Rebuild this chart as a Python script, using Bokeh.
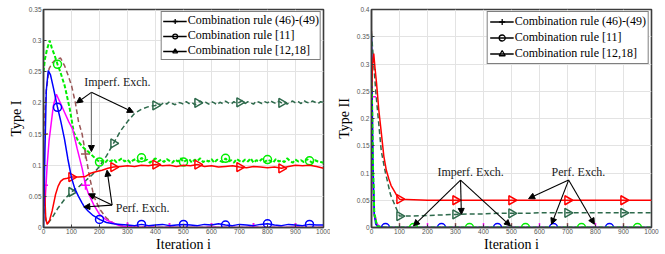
import numpy as np
from bokeh.plotting import figure
from bokeh.layouts import row
from bokeh.models import (Range1d, FixedTicker, CustomJSTickFormatter, Label, Arrow,
                          NormalHead, Legend, LegendItem)
from bokeh.embed import file_html
from bokeh.resources import INLINE

# ---------------- data: Type I (left panel) ----------------
t1_blue_x = [0, 5, 10, 17, 25, 35, 50, 62, 75, 87, 100, 112, 125, 137, 146, 160, 175, 190, 200, 225, 250, 275] + list(range(300, 1001, 25))
t1_blue_y = [0.0, 0.12, 0.22, 0.252, 0.245, 0.225, 0.193, 0.17, 0.142, 0.11, 0.08, 0.062, 0.05, 0.04, 0.033, 0.026, 0.02, 0.016, 0.013, 0.008, 0.006, 0.005,
             0.004, 0.003, 0.005, 0.003, 0.004, 0.005, 0.003, 0.004, 0.005, 0.004,
             0.003, 0.005, 0.004, 0.006, 0.004, 0.003, 0.005, 0.004, 0.003, 0.005,
             0.006, 0.004, 0.003, 0.005, 0.004, 0.003, 0.005, 0.004, 0.004]

t1_mag_x = [0, 5, 13, 20, 25, 35, 46, 60, 75, 90, 104, 120, 138, 150, 160, 180, 200, 225, 245, 270, 300, 350, 400, 450, 500, 600, 700, 750, 800, 900, 1000]
t1_mag_y = [0.068, 0.035, 0.1, 0.14, 0.158, 0.195, 0.214, 0.2, 0.185, 0.17, 0.158, 0.127, 0.095, 0.068, 0.055, 0.036, 0.021, 0.012, 0.008, 0.003, 0.001, 0.0005, 0.0003, 0.0002, 0.0, 0.0, 0.0, 0.0, 0.0, 0.0, 0.0]

t1_brown_x = [0, 10, 20, 31, 45, 61, 75, 89, 100, 114, 125, 138, 150, 165, 180, 200, 225, 250, 275, 300, 350, 400, 450, 500, 600, 700, 750, 800, 900, 1000]
t1_brown_y = [0.15, 0.22, 0.255, 0.264, 0.27, 0.272, 0.26, 0.243, 0.228, 0.2, 0.17, 0.15, 0.118, 0.08, 0.05, 0.03, 0.015, 0.007, 0.003, 0.001, 0.0005, 0.0, 0.0, 0.0, 0.0, 0.0, 0.0, 0.0, 0.0, 0.0]

t1_green_x = [0, 5, 12, 22, 30, 40, 50, 60, 76, 94, 108, 126, 145, 162, 180] + list(range(200, 1001, 10))
t1_green_y = [0.25, 0.27, 0.285, 0.30, 0.288, 0.276, 0.262, 0.25, 0.227, 0.19, 0.153, 0.137, 0.127, 0.121, 0.113,
              0.105, 0.108, 0.104, 0.109, 0.106, 0.110, 0.105, 0.108, 0.111, 0.106,
              0.109, 0.104, 0.108, 0.110, 0.105, 0.112, 0.107, 0.109, 0.104, 0.108,
              0.111, 0.106, 0.109, 0.105, 0.110, 0.107, 0.104, 0.109, 0.106, 0.111,
              0.105, 0.108, 0.110, 0.104, 0.109, 0.107, 0.111, 0.105, 0.108, 0.106,
              0.110, 0.104, 0.109, 0.107, 0.105, 0.111, 0.106, 0.108, 0.104, 0.110,
              0.107, 0.105, 0.109, 0.106, 0.111, 0.104, 0.108, 0.106, 0.110, 0.105,
              0.109, 0.107, 0.104, 0.110, 0.106, 0.108, 0.105, 0.111, 0.107, 0.104,
              0.109, 0.106, 0.108, 0.105, 0.110, 0.107, 0.104, 0.108, 0.106, 0.105,
              0.104]

t1_red_x = [0, 4, 8, 13, 22, 31, 43, 52, 61, 72, 85, 100, 125, 150, 168, 190, 209, 230] + list(range(250, 1001, 25))
t1_red_y = [0.14, 0.06, 0.015, 0.005, 0.012, 0.027, 0.053, 0.066, 0.074, 0.078, 0.079, 0.081, 0.081, 0.082, 0.087, 0.09, 0.092, 0.095,
            0.097, 0.098, 0.099, 0.098, 0.100, 0.099, 0.101, 0.099, 0.100, 0.098,
            0.100, 0.099, 0.101, 0.098, 0.099, 0.097, 0.098, 0.099, 0.097, 0.096,
            0.098, 0.097, 0.096, 0.097, 0.095, 0.098, 0.100, 0.099, 0.100, 0.098,
            0.095]

t1_dkg_x = [0, 4, 8, 15, 30, 50, 75, 100, 125, 150, 175, 200, 225, 250, 275, 300, 325, 350, 375] + list(range(400, 1001, 10))
t1_dkg_y = [0.12, 0.04, 0.012, 0.006, 0.015, 0.03, 0.045, 0.057, 0.065, 0.075, 0.085, 0.098, 0.115, 0.135, 0.155, 0.17, 0.183, 0.19, 0.194,
            0.196, 0.199, 0.197, 0.201, 0.198, 0.202, 0.199, 0.197, 0.201, 0.200,
            0.198, 0.202, 0.199, 0.201, 0.197, 0.200, 0.203, 0.199, 0.201, 0.198,
            0.202, 0.200, 0.197, 0.201, 0.199, 0.203, 0.200, 0.198, 0.202, 0.199,
            0.201, 0.204, 0.199, 0.202, 0.200, 0.198, 0.203, 0.201, 0.199, 0.202,
            0.200, 0.204, 0.201, 0.199, 0.203, 0.200, 0.202, 0.198, 0.201, 0.203,
            0.200, 0.202, 0.199, 0.204, 0.201, 0.200, 0.203, 0.201, 0.199, 0.202,
            0.201]

t1_marks_plus = [0, 150, 300, 450, 600, 750, 900]
t1_marks_circ = [50, 200, 350, 500, 650, 800, 950]
t1_marks_tri = [100, 250, 400, 550, 700, 850]

# ---------------- data: Type II (right panel) ----------------
tail_x = list(range(100, 1001, 50))
t2_red_x = [0, 4, 8, 13, 18, 26, 35, 44, 53, 62, 70, 80, 90] + tail_x
t2_red_y = [0.25, 0.30, 0.319, 0.29, 0.265, 0.216, 0.174, 0.131, 0.105, 0.089, 0.077, 0.068, 0.059,
            0.052, 0.051, 0.050, 0.050, 0.050, 0.050, 0.050, 0.050, 0.050, 0.050,
            0.050, 0.050, 0.050, 0.050, 0.050, 0.050, 0.050, 0.050, 0.050]
t2_dkg_x = [0, 8, 16, 26, 35, 50, 68, 86] + tail_x
t2_dkg_y = [0.356, 0.30, 0.245, 0.19, 0.14, 0.10, 0.06, 0.038,
            0.021, 0.021, 0.022, 0.023, 0.024, 0.025, 0.025, 0.026, 0.026, 0.026,
            0.027, 0.027, 0.027, 0.027, 0.027, 0.027, 0.027, 0.027, 0.027]
t2_blue_x = [0, 5, 10, 15, 25, 50, 250, 450, 650, 850, 1000]
t2_blue_y = [0.35, 0.12, 0.025, 0.006, 0.001, 0.0, 0.0, 0.0, 0.0, 0.0, 0.0]
t2_mag_x = [0, 5, 10, 20, 30, 50, 200, 400, 600, 800, 1000]
t2_mag_y = [0.24, 0.08, 0.02, 0.006, 0.002, 0.0005, 0.0, 0.0, 0.0, 0.0, 0.0]
t2_brown_x = [0, 5, 10, 20, 40, 100, 300, 500, 700, 900, 1000]
t2_brown_y = [0.36, 0.12, 0.03, 0.004, 0.0, 0.0, 0.0, 0.0, 0.0, 0.0, 0.0]
t2_green_x = [0, 5, 10, 20, 40, 150, 350, 550, 750, 950, 1000]
t2_green_y = [0.30, 0.12, 0.025, 0.003, 0.0, 0.0, 0.0, 0.0, 0.0, 0.0, 0.0]

t2_marks_tri = [100, 300, 500, 700, 900]
t2_marks_blue = [50, 250, 450, 650, 850]
t2_marks_mag = [0, 200, 400, 600, 800]
t2_marks_brown = [100, 300, 500, 700, 900]
t2_marks_green = [150, 350, 550, 750, 950]

legend_labels = ["Combination rule (46)-(49)", "Combination rule [11]", "Combination rule [12,18]"]
x_ticks = [0, 100, 200, 300, 400, 500, 600, 700, 800, 900, 1000]
y1_ticks = [0, 0.05, 0.1, 0.15, 0.2, 0.25, 0.3, 0.35]
y2_ticks = [0, 0.05, 0.1, 0.15, 0.2, 0.25, 0.3, 0.35, 0.4]

# annotations: (text, x, y) and arrows (x_start, y_start, x_end, y_end)
t1_texts = [("Imperf. Exch.", 264, 0.233), ("Perf. Exch.", 354, 0.032)]
t1_arrows = [(171, 0.217, 118, 0.200), (171, 0.217, 171, 0.122), (171, 0.217, 321, 0.185),
             (245, 0.036, 161, 0.054), (245, 0.036, 144, 0.033), (245, 0.036, 227, 0.092)]
t1_arrow_colors = ["black", "#6e6e6e", "black", "black", "black", "black"]
t2_texts = [("Imperf. Exch.", 354, 0.102), ("Perf. Exch.", 739, 0.102)]
t2_arrows = [(318, 0.087, 150, 0.003), (318, 0.087, 321, 0.024), (318, 0.087, 496, 0.003),
             (704, 0.087, 561, 0.053), (704, 0.087, 643, 0.006), (704, 0.087, 796, 0.006)]

BLUE, MAG, RED, GRN, DKG, BRN = "#0000ff", "#ff00ff", "#ff0000", "#00ee00", "#2e6a4c", "#9a5656"
SERIF = "'Liberation Serif', 'DejaVu Serif', serif"


def pick(xs, ys, marks):
    return [ys[xs.index(m)] for m in marks]


def make_fig(width, left, right, bottom, ymax, yticks, ylabel):
    p = figure(width=width, height=254, x_range=Range1d(0, 1000), y_range=Range1d(0, ymax),
               output_backend="svg", toolbar_location=None,
               min_border_left=left, min_border_right=right, min_border_top=9, min_border_bottom=bottom)
    p.background_fill_color = "white"
    p.border_fill_color = "white"
    p.outline_line_color = "#3c3c3c"
    p.outline_line_width = 1.6
    p.xaxis.ticker = FixedTicker(ticks=x_ticks)
    p.yaxis.ticker = FixedTicker(ticks=yticks)
    p.yaxis.formatter = CustomJSTickFormatter(code="return Number(tick.toFixed(2)).toString();")
    for ax in (p.xaxis, p.yaxis):
        ax.axis_line_color = "#3c3c3c"
        ax.axis_line_width = 1.4
        ax.major_tick_in = 3
        ax.major_tick_out = 0
        ax.major_tick_line_color = "#3c3c3c"
        ax.minor_tick_line_color = None
        ax.major_label_text_font = "Liberation Sans"
        ax.major_label_text_font_size = "6.5px"
        ax.major_label_text_color = "#555555"
        ax.major_label_standoff = 2
        ax.axis_label_text_font = SERIF
        ax.axis_label_text_font_size = "14px"
        ax.axis_label_text_font_style = "normal"
        ax.axis_label_text_color = "black"
    p.yaxis.axis_label = ylabel
    p.yaxis.axis_label_standoff = 2
    p.xaxis.axis_label = "Iteration i"
    p.xaxis.axis_label_standoff = 0
    p.xaxis.major_label_standoff = 1
    p.xgrid.grid_line_color = "#e3e3e3"
    p.ygrid.grid_line_color = "#e3e3e3"
    return p


def series(p, xs, ys, color, dash, marker, marks, width=1.5, size=8, angle=0.0):
    p.line(xs, ys, line_color=color, line_width=width, line_dash=dash)
    p.scatter(marks, pick(xs, ys, marks), marker=marker, size=size, angle=angle,
              line_color=color, fill_color=None, line_width=1.5)


def add_legend(p, label_h, spacing, padding):
    items = []
    for lab, mk, ang in zip(legend_labels, ["cross", "circle", "triangle"], [0.0, 0.0, -np.pi / 2]):
        # single off-range point: only used to draw the legend glyph
        lr = p.line([-500, -400], [-1, -1], line_color="black", line_width=1.3)
        sr = p.scatter(x=[-500], y=[-1], angle=[ang], marker=mk, size=8 if mk != "circle" else 7,
                       line_color="black", fill_color=None, line_width=1.3)
        items.append(LegendItem(label=lab, renderers=[lr, sr], index=0))
    lg = Legend(items=items, location="top_right", margin=2, padding=padding, spacing=spacing,
                label_height=label_h, glyph_height=label_h, glyph_width=24, label_standoff=1,
                label_text_font=SERIF, label_text_font_size="12px", label_text_color="black",
                border_line_color="black", border_line_width=1.5, background_fill_color="white",
                background_fill_alpha=1.0)
    p.add_layout(lg, "center")


def add_notes(p, texts, arrows, colors=None):
    for i, (x0, y0, x1, y1) in enumerate(arrows):
        c = colors[i] if colors else "black"
        p.add_layout(Arrow(x_start=x0, y_start=y0, x_end=x1, y_end=y1, line_color=c, line_width=1.1,
                           end=NormalHead(size=6, fill_color="black", line_color="black", line_width=1)))
    for t, x, y in texts:
        p.add_layout(Label(x=x, y=y, text=t, text_align="center", text_baseline="middle",
                           text_font=SERIF, text_font_size="12px", text_color="#1a1a1a"))


# ---------------- left panel ----------------
p1 = make_fig(330, 43, 7, 24, 0.35, y1_ticks, "Type I")
series(p1, t1_brown_x, t1_brown_y, BRN, "5 3", "cross", t1_marks_plus, size=9)
series(p1, t1_dkg_x, t1_dkg_y, DKG, "5 3", "triangle", t1_marks_tri, size=9, angle=-np.pi / 2)
series(p1, t1_green_x, t1_green_y, GRN, "4 2", "circle", t1_marks_circ, width=2.0)
series(p1, t1_mag_x, t1_mag_y, MAG, "solid", "cross", t1_marks_plus, size=9)
series(p1, t1_red_x, t1_red_y, RED, "solid", "triangle", t1_marks_tri, size=9, angle=-np.pi / 2)
series(p1, t1_blue_x, t1_blue_y, BLUE, "solid", "circle", t1_marks_circ)
add_notes(p1, t1_texts, t1_arrows, t1_arrow_colors)
add_legend(p1, 12, 0, 1)

# ---------------- right panel ----------------
p2 = make_fig(334, 41, 13, 25, 0.4, y2_ticks, "Type II")
series(p2, t2_brown_x, t2_brown_y, BRN, "5 3", "cross", t2_marks_brown, size=9)
series(p2, t2_mag_x, t2_mag_y, MAG, "solid", "cross", t2_marks_mag, size=9)
series(p2, t2_blue_x, t2_blue_y, BLUE, "solid", "circle", t2_marks_blue)
series(p2, t2_green_x, t2_green_y, GRN, "4 2", "circle", t2_marks_green, width=2.0)
series(p2, t2_dkg_x, t2_dkg_y, DKG, "5 3", "triangle", t2_marks_tri, size=9, angle=-np.pi / 2)
series(p2, t2_red_x, t2_red_y, RED, "solid", "triangle", t2_marks_tri, size=9, angle=-np.pi / 2)
add_notes(p2, t2_texts, t2_arrows)
add_legend(p2, 15, 1, 2)

layout = row(p1, p2)
open("out.html", "w").write(file_html(layout, INLINE))
